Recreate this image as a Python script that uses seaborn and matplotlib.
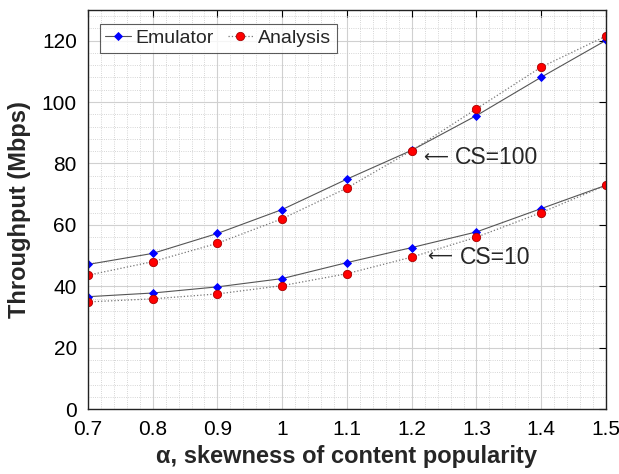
import matplotlib
matplotlib.use("Agg")
import matplotlib.pyplot as plt
from matplotlib.ticker import MultipleLocator
import seaborn as sns
import pandas as pd

alpha = [0.7, 0.8, 0.9, 1.0, 1.1, 1.2, 1.3, 1.4, 1.5]
emu_cs100 = [47.1, 50.7, 57.2, 65.0, 74.9, 84.3, 95.6, 108.1, 120.1]
ana_cs100 = [43.6, 48.0, 54.0, 62.0, 72.0, 84.2, 97.8, 111.4, 121.5]
emu_cs10 = [36.6, 37.8, 39.8, 42.5, 47.7, 52.6, 57.7, 65.3, 72.9]
ana_cs10 = [34.9, 35.9, 37.5, 40.2, 44.1, 49.5, 56.0, 64.0, 72.9]

rows = []
for cs, emu, ana in [("100", emu_cs100, ana_cs100), ("10", emu_cs10, ana_cs10)]:
    for a, e, n in zip(alpha, emu, ana):
        rows.append({"alpha": a, "thr": e, "kind": "Emulator", "cs": cs})
        rows.append({"alpha": a, "thr": n, "kind": "Analysis", "cs": cs})
df = pd.DataFrame(rows)

sns.set_theme(style="white")
plt.rcParams["font.family"] = ["Liberation Sans", "DejaVu Sans"]

fig = plt.figure(figsize=(6.19, 4.74), dpi=100)
ax = fig.add_axes([0.142, 0.137, 0.837, 0.842])

styles = {
    "Emulator": dict(color="#555555", ls="-", marker="D", mfc="blue", mec="blue", ms=4.5, lw=0.8),
    "Analysis": dict(color="#777777", ls=":", marker="o", mfc="red", mec="#aa0000", ms=6, lw=0.9),
}
for kind in ["Emulator", "Analysis"]:
    for i, cs in enumerate(["100", "10"]):
        sub = df[(df.kind == kind) & (df.cs == cs)]
        st = styles[kind]
        sns.lineplot(data=sub, x="alpha", y="thr", ax=ax, color=st["color"],
                     linestyle=st["ls"], linewidth=st["lw"], marker=st["marker"],
                     markerfacecolor=st["mfc"], markeredgecolor=st["mec"],
                     markersize=st["ms"], markeredgewidth=0.6,
                     label=kind if i == 0 else None, legend=False)

ax.set_xlim(0.7, 1.5)
ax.set_ylim(0, 130)
ax.xaxis.set_major_locator(MultipleLocator(0.1))
ax.xaxis.set_minor_locator(MultipleLocator(0.02))
ax.yaxis.set_major_locator(MultipleLocator(20))
ax.yaxis.set_minor_locator(MultipleLocator(4))
ax.set_xticks(alpha)
ax.set_xticklabels(["0.7", "0.8", "0.9", "1", "1.1", "1.2", "1.3", "1.4", "1.5"])
ax.grid(which="major", color="#d0d0d0", lw=0.8, ls="-")
ax.grid(which="minor", color="#c8c8c8", lw=0.6, ls=":")
ax.set_axisbelow(True)
ax.tick_params(which="major", direction="in", length=5, width=0.8, top=True, right=True,
               labelsize=15, colors="black", pad=8)
ax.tick_params(which="minor", length=0)
for s in ax.spines.values():
    s.set_color("#222222")
    s.set_linewidth(1.0)

ax.set_xlabel("α, skewness of content popularity", fontsize=17, fontweight="bold", labelpad=4)
ax.set_ylabel("Throughput (Mbps)", fontsize=17, fontweight="bold", labelpad=8)

# curve labels: long arrow glyph followed by the cache-size text
for ax_x, ax_y, txt_x, label in [(1.217, 82, 1.267, "CS=100"), (1.224, 49.5, 1.274, "CS=10")]:
    ax.text(ax_x, ax_y, "\u27f5", fontsize=12.5, va="center", ha="left",
            family=["DejaVu Sans"])
    ax.text(txt_x, ax_y, label, fontsize=16.5, va="center", ha="left")

leg = ax.legend(loc="upper left", bbox_to_anchor=(0.015, 0.975), ncol=2, fontsize=14,
                frameon=True, fancybox=False, handlelength=1.3, handletextpad=0.25,
                columnspacing=0.7, borderpad=0.3, borderaxespad=0.2)
leg.get_frame().set_edgecolor("#333333")
leg.get_frame().set_linewidth(0.8)

fig.savefig("out.png", dpi=100)
